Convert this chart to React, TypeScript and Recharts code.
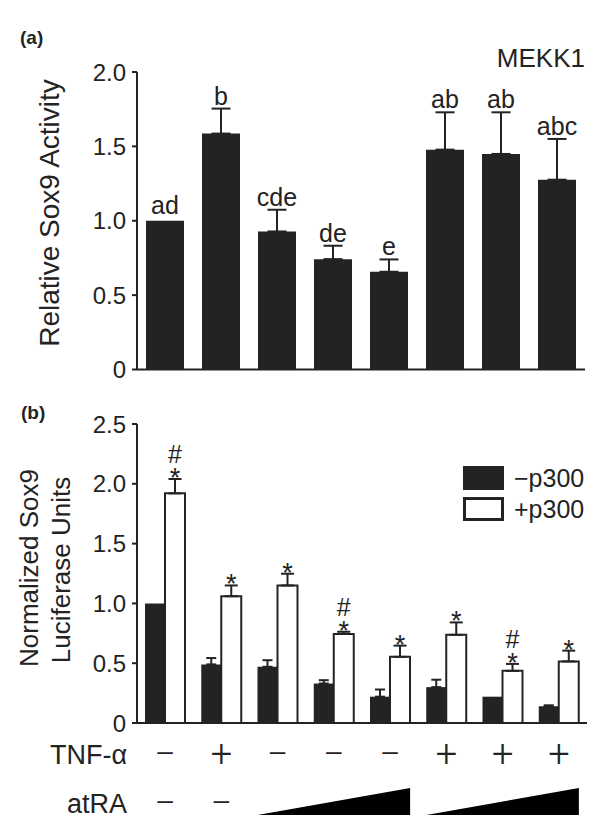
import React from 'react'
import { BarChart, Bar, XAxis, YAxis, ErrorBar, LabelList, Legend } from 'recharts'

const FONT = '"Liberation Sans", Arial, Helvetica, sans-serif'
const SIGN_FONT = 'Roboto, "Liberation Sans", sans-serif'
const INK = '#232323'

// (a) MEKK1 - relative Sox9 activity
const groupsA = ['A1', 'A2', 'A3', 'A4', 'A5', 'A6', 'A7', 'A8']
const sox9Activity = [1.0, 1.586, 0.928, 0.742, 0.657, 1.478, 1.449, 1.276]
const sox9ActivityErr = [0, 0.168, 0.146, 0.09, 0.083, 0.251, 0.28, 0.274]
const groupLetters = ['ad', 'b', 'cde', 'de', 'e', 'ab', 'ab', 'abc']
const ticksA = [0, 0.5, 1, 1.5, 2]

// (b) normalized Sox9 luciferase units, -p300 / +p300
const groupsB = ['B1', 'B2', 'B3', 'B4', 'B5', 'B6', 'B7', 'B8']
const minusP300 = [1.0, 0.49, 0.47, 0.33, 0.22, 0.3, 0.22, 0.14]
const minusP300Err = [0, 0.053, 0.055, 0.028, 0.06, 0.062, 0, 0.008]
const plusP300 = [1.92, 1.06, 1.15, 0.745, 0.553, 0.737, 0.436, 0.515]
const plusP300Err = [0.12, 0.09, 0.098, 0.018, 0.094, 0.104, 0.058, 0.09]
const starMarks = [true, true, true, true, true, true, true, true]
const hashMarks = [true, false, false, true, false, false, true, false]
const tnfAlpha = ['\u2212', '+', '\u2212', '\u2212', '\u2212', '+', '+', '+']
const atraDose = [0, 0, 1, 2, 3, 1, 2, 3]
const ticksB = [0, 0.5, 1, 1.5, 2, 2.5]

// upward-only error bars; no bar drawn where the error is zero
const upErr = (e: number) => (e > 0 ? [0, e] : null)

const dataA = groupsA.map((g, i) => ({
  group: g,
  activity: sox9Activity[i],
  err: upErr(sox9ActivityErr[i]),
  letter: groupLetters[i],
}))

const dataB = groupsB.map((g, i) => ({
  group: g,
  minus: minusP300[i],
  minusErr: upErr(minusP300Err[i]),
  plus: plusP300[i],
  plusErr: upErr(plusP300Err[i]),
  mark: i,
}))

const PLOT_W_B = 450
const BAND_B = PLOT_W_B / 8

const fmtTick = (v: number) => (v === 0 ? '0' : v.toFixed(1))

function boxOf(props: any) {
  const vb = props.viewBox || props
  return { x: vb.x, y: vb.y, width: vb.width, height: vb.height }
}

function LetterLabel(props: any) {
  const { x, y, width, height } = boxOf(props)
  const i = props.index
  const perUnit = height / sox9Activity[i]
  const top = y - sox9ActivityErr[i] * perUnit
  const gap = sox9ActivityErr[i] > 0 ? 4 : 7
  return (
    <text x={x + width / 2} y={top - gap} textAnchor="middle" fontSize={25} fontFamily={FONT} fill={INK}>
      {props.value}
    </text>
  )
}

// "*" (and "#" stacked above it) over each +p300 error bar
function MarkLabel(props: any) {
  const { x, y, width, height } = boxOf(props)
  const i = props.index
  const perUnit = height / plusP300[i]
  const cap = y - plusP300Err[i] * perUnit
  const cx = x + width / 2
  return (
    <text fontFamily={FONT} fill={INK} textAnchor="middle">
      {hashMarks[i] && <tspan x={cx} y={cap - 16} fontSize={25}>#</tspan>}
      {starMarks[i] && <tspan x={cx} y={cap + 8} fontSize={27}>*</tspan>}
    </text>
  )
}

function ConditionTick(props: any) {
  const { x, y, index } = props
  const tnfY = y + 32
  const atraY = y + 81
  const dose = atraDose[index]
  let atra: React.ReactNode = null
  if (dose === 0) {
    atra = (
      <text x={x} y={atraY + 12} textAnchor="middle" fontSize={38} fontFamily={SIGN_FONT} fontWeight={300}>
        {'\u2212'}
      </text>
    )
  } else if (dose === 1) {
    const x0 = x - 20
    const x1 = x + 2 * BAND_B + 20
    atra = <polygon points={`${x0},${y + 92} ${x1},${y + 92} ${x1},${y + 65}`} fill="#000" />
  }
  return (
    <g fontFamily={FONT} fill={INK}>
      {index === 0 && (
        <>
          <text x={x - 38} y={tnfY + 9} textAnchor="end" fontSize={27}>TNF-α</text>
          <text x={x - 38} y={atraY + 9} textAnchor="end" fontSize={27}>atRA</text>
        </>
      )}
      <text x={x} y={tnfY + 12} textAnchor="middle" fontSize={38} fontFamily={SIGN_FONT} fontWeight={300}>
        {tnfAlpha[index]}
      </text>
      {atra}
    </g>
  )
}

function P300Legend(props: any) {
  const payload = [...(props.payload || [])].sort((a: any, b: any) => (a.dataKey === 'minus' ? -1 : b.dataKey === 'minus' ? 1 : 0))
  return (
    <div style={{ display: 'flex', flexDirection: 'column', gap: 7 }}>
      {payload.map((e: any) => (
        <div key={e.value} style={{ display: 'flex', alignItems: 'center', height: 24 }}>
          <span style={{
            display: 'inline-block',
            width: 41,
            height: 24,
            boxSizing: 'border-box',
            background: e.color,
            border: `3px solid ${INK}`,
          }} />
          <span style={{ marginLeft: 10, fontSize: 25, fontFamily: FONT, color: INK, lineHeight: '24px' }}>
            {e.value}
          </span>
        </div>
      ))}
    </div>
  )
}

export default function App() {
  return (
    <div style={{ position: 'absolute', left: 0, top: 0, width: 600, height: 831, background: '#fff' }}>
      {/* panel (a) */}
      <div style={{ position: 'absolute', left: 0, top: 0 }}>
        <BarChart width={600} height={390} data={dataA} margin={{ top: 72, right: 15, bottom: 19.5, left: 0 }}>
          <XAxis dataKey="group" tick={false} tickLine={false} height={1} axisLine={{ stroke: INK, strokeWidth: 2 }} />
          <YAxis
            width={137}
            domain={[0, 2]}
            ticks={ticksA}
            tickFormatter={fmtTick}
            tickSize={5}
            tickMargin={6}
            axisLine={{ stroke: INK, strokeWidth: 2 }}
            tickLine={{ stroke: INK, strokeWidth: 2 }}
            tick={{ fontSize: 24, fontFamily: FONT, fill: INK }}
          />
          <Bar dataKey="activity" fill={INK} barSize={38} isAnimationActive={false}>
            <ErrorBar dataKey="err" direction="y" width={9.5} stroke={INK} strokeWidth={2} isAnimationActive={false} />
            <LabelList dataKey="letter" content={LetterLabel} />
          </Bar>
        </BarChart>
      </div>

      {/* panel (b) */}
      <div style={{ position: 'absolute', left: 0, top: 390 }}>
        <BarChart width={600} height={441} data={dataB} margin={{ top: 34, right: 13, bottom: 8, left: 0 }} barGap={0}>
          <XAxis
            dataKey="group"
            height={100}
            tickLine={false}
            tickSize={0}
            tickMargin={0}
            interval={0}
            axisLine={{ stroke: INK, strokeWidth: 2 }}
            tick={ConditionTick}
          />
          <YAxis
            width={137}
            domain={[0, 2.5]}
            ticks={ticksB}
            tickFormatter={fmtTick}
            tickSize={5}
            tickMargin={6}
            axisLine={{ stroke: INK, strokeWidth: 2 }}
            tickLine={{ stroke: INK, strokeWidth: 2 }}
            tick={{ fontSize: 24, fontFamily: FONT, fill: INK }}
          />
          <Legend
            layout="vertical"
            align="center"
            verticalAlign="middle"
            content={P300Legend}
            wrapperStyle={{ position: 'absolute', top: 76, left: 463, width: 137, height: 'auto' }}
          />
          <Bar dataKey="minus" name={'\u2212p300'} fill={INK} barSize={20} isAnimationActive={false}>
            <ErrorBar dataKey="minusErr" direction="y" width={5} stroke={INK} strokeWidth={2} isAnimationActive={false} />
          </Bar>
          <Bar dataKey="plus" name="+p300" fill="#ffffff" stroke={INK} strokeWidth={2} barSize={20} isAnimationActive={false}>
            <ErrorBar dataKey="plusErr" direction="y" width={6.5} stroke={INK} strokeWidth={2} isAnimationActive={false} />
            <LabelList dataKey="mark" content={MarkLabel} />
          </Bar>
        </BarChart>
      </div>

      {/* panel titles and axis titles */}
      <svg width={600} height={831} style={{ position: 'absolute', left: 0, top: 0, pointerEvents: 'none' }}>
        <g fontFamily={FONT} fill={INK}>
          <text x={20} y={44} fontSize={19} fontWeight="bold">(a)</text>
          <text x={585} y={67} fontSize={26} textAnchor="end">MEKK1</text>
          <text x={59} y={213} fontSize={28} textAnchor="middle" transform="rotate(-90 59 213)">
            Relative Sox9 Activity
          </text>
          <text x={21} y={419} fontSize={19} fontWeight="bold">(b)</text>
          <text x={38} y={568} fontSize={26} textAnchor="middle" transform="rotate(-90 38 568)">
            Normalized Sox9
          </text>
          <text x={70} y={570} fontSize={26} textAnchor="middle" transform="rotate(-90 70 570)">
            Luciferase Units
          </text>
        </g>
      </svg>
    </div>
  )
}
